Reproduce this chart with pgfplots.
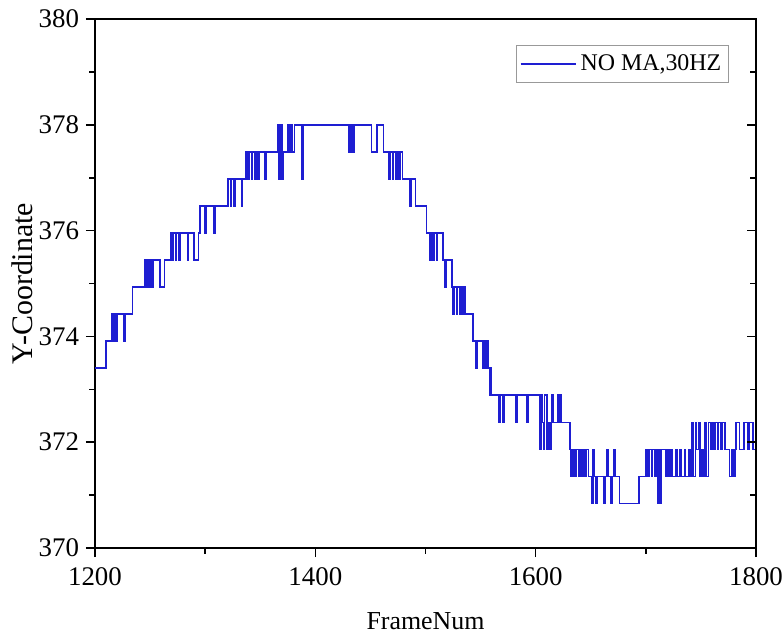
\documentclass[border=0pt]{standalone}
\usepackage{fontspec}
\setmainfont{Liberation Serif}
\usepackage{pgfplots}
\pgfplotsset{compat=1.18}
\usepackage{pgfplotstable}
\definecolor{lineblue}{RGB}{30,30,210}
\def\A{373.40}\def\B{373.91}\def\C{374.42}\def\D{374.93}\def\E{375.44}
\def\F{375.95}\def\G{376.46}\def\H{376.97}\def\I{377.49}\def\J{378.00}
\def\K{372.89}\def\L{372.37}\def\M{371.86}\def\N{371.35}\def\O{370.84}
\begin{document}
\begin{tikzpicture}
\begin{axis}[
  name=ax,
  scale only axis,
  width=330.5bp, height=264.5bp,
  xmin=1200, xmax=1800, ymin=370, ymax=380,
  xtick={1200,1400,1600,1800},
  minor xtick={1300,1500,1700},
  ytick={370,372,...,380},
  minor ytick={371,373,...,379},
  tick align=outside,
  xtick pos=bottom, ytick pos=left,
  major tick length=4.5bp, minor tick length=2.8bp,
  every tick/.style={black, line width=0.8bp},
  axis line style={line width=0.9bp},
  /pgf/number format/1000 sep={},
  /pgf/number format/assume math mode=true,
  tick label style={font=\fontsize{13.5}{15}\selectfont},
  xticklabel style={yshift=-2bp},
  xlabel={FrameNum},
  ylabel={Y-Coordinate},
  xlabel style={font=\fontsize{13}{15}\selectfont, at={(axis description cs:0.5,-0.138)}, anchor=center},
  ylabel style={font=\fontsize{15}{17}\selectfont, at={(axis description cs:-0.110,0.5)}, anchor=center},
  legend style={at={(axis description cs:0.959,0.951)}, anchor=north east,
    draw=gray!80, line width=0.6bp, inner xsep=1.5bp, inner ysep=2.5bp,
    font=\fontsize{12}{14}\selectfont},
  legend cell align=left,
  legend image code/.code={\draw[#1] (0cm,0cm) -- (0.97cm,0cm);},
]
\addplot[const plot mark left, color=lineblue, line width=0.85bp] coordinates {
(1200,\A)(1210,\B)(1215,\C)(1216,\B)(1217,\C)(1219,\B)(1220,\C)(1226,\B)(1227,\C)
(1234,\D)(1245,\E)(1246,\D)(1247,\E)(1249,\D)(1250,\E)(1252,\D)(1253,\E)(1259,\D)(1263,\E)
(1269,\F)(1270,\E)(1271,\F)(1273,\E)(1274,\F)(1276,\E)(1277,\F)(1284,\E)(1285,\F)(1290,\E)(1294,\F)
(1295,\G)(1300,\F)(1301,\G)(1308,\F)(1309,\G)
(1321,\H)(1323,\G)(1324,\H)(1326,\G)(1327,\H)(1333,\G)(1334,\H)
(1337,\I)(1339,\H)(1340,\I)(1342,\H)(1343,\I)(1345,\H)(1346,\I)(1348,\H)(1349,\I)(1354,\H)(1355,\I)
(1366,\J)(1367,\H)(1368,\I)(1369,\J)(1370,\H)(1371,\I)(1375,\J)(1376,\I)(1378,\J)(1379,\I)(1381,\J)
(1388,\H)(1389,\J)(1430,\I)(1431,\J)(1432,\I)(1433,\J)(1434,\I)(1435,\J)(1451,\I)(1456,\J)
(1462,\I)(1467,\H)(1468,\I)(1470,\H)(1471,\I)(1473,\H)(1474,\I)(1476,\H)(1477,\I)(1479,\H)
(1486,\G)(1487,\H)(1491,\G)
(1501,\F)(1504,\E)(1505,\F)(1507,\E)(1508,\F)(1510,\E)(1511,\F)
(1516,\E)(1518,\D)(1519,\E)
(1524,\D)(1525,\C)(1526,\D)(1528,\C)(1529,\D)(1531,\C)(1532,\D)(1534,\C)(1535,\D)(1536,\C)
(1543,\B)(1546,\A)(1547,\B)(1552,\A)(1553,\B)(1555,\A)(1556,\B)(1557,\A)(1558,\K)(1559,\A)
(1560,\K)(1567,\L)(1568,\K)(1570,\L)(1571,\K)(1582,\L)(1583,\K)(1592,\L)(1593,\K)
(1604,\M)(1605,\K)(1606,\L)(1607,\M)(1608,\K)(1610,\M)(1611,\L)(1613,\M)(1614,\L)(1615,\K)(1616,\L)
(1620,\K)(1621,\L)(1622,\K)(1623,\L)
(1631,\M)(1632,\N)(1634,\M)(1636,\N)(1637,\M)(1639,\N)(1640,\M)(1642,\N)(1643,\M)(1645,\N)(1646,\M)(1648,\N)
(1651,\O)(1652,\M)(1653,\N)(1655,\O)(1656,\N)(1662,\O)(1663,\N)(1665,\M)(1666,\N)(1668,\O)(1669,\N)(1671,\M)(1672,\N)
(1676,\O)(1694,\N)
(1700,\M)(1702,\N)(1703,\M)(1705,\N)(1706,\M)(1708,\N)(1709,\M)(1711,\O)(1712,\M)(1713,\O)(1714,\M)
(1718,\N)(1720,\M)(1721,\N)(1723,\M)(1724,\N)(1727,\M)(1728,\N)(1731,\M)(1732,\N)(1735,\M)(1736,\N)(1739,\M)(1740,\N)
(1742,\L)(1743,\N)(1745,\L)(1746,\M)(1748,\L)(1749,\N)(1751,\M)(1752,\N)(1754,\L)(1755,\N)
(1757,\L)(1759,\M)(1760,\L)(1762,\M)(1763,\L)(1765,\M)(1766,\L)(1768,\M)(1769,\L)
(1772,\M)(1776,\N)(1778,\M)(1780,\N)(1781,\M)(1782,\L)(1785,\M)(1789,\L)(1793,\M)(1794,\L)(1797,\M)(1800,\M)
};
\addlegendentry{NO MA,30HZ}
\end{axis}
\begin{axis}[
  scale only axis,
  width=330.5bp, height=264.5bp,
  xmin=1200, xmax=1800, ymin=370, ymax=380,
  axis y line*=right, axis x line=none,
  ytick={370,372,...,380},
  minor ytick={371,373,...,379},
  yticklabels={},
  tick align=inside,
  major tick length=4.5bp, minor tick length=2.8bp,
  every tick/.style={black, line width=0.8bp},
  axis line style={line width=0.9bp},
]
\addplot[draw=none] coordinates {(1200,370)};
\end{axis}
\pgfresetboundingbox
\path ([xshift=-47.5bp,yshift=-43bp]ax.south west) rectangle ([xshift=13bp,yshift=9.5bp]ax.north east);
\end{tikzpicture}
\end{document}
